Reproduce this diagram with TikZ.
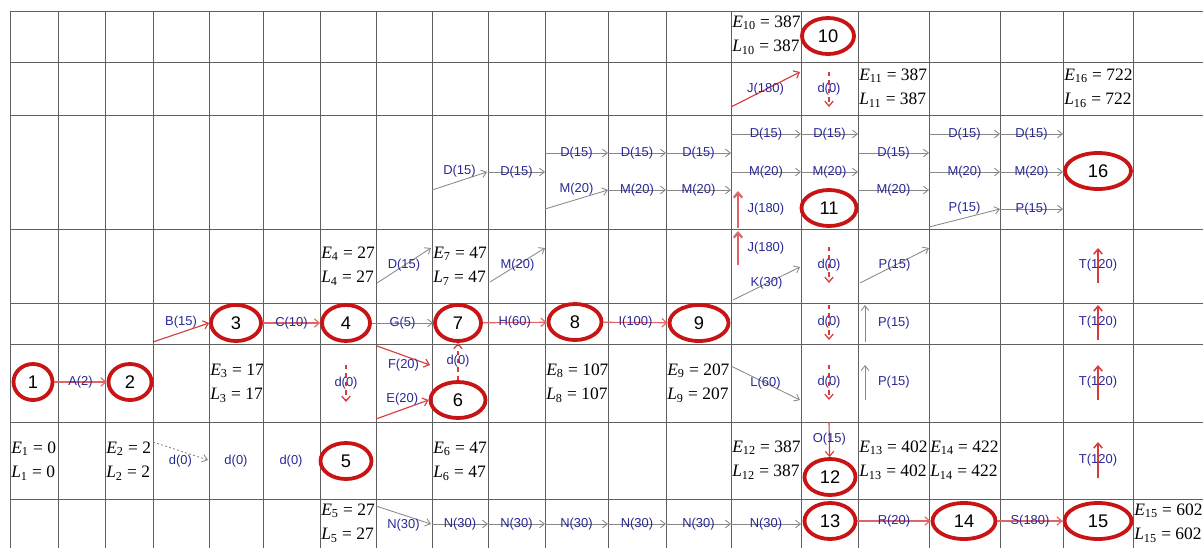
\documentclass[tikz,border=0pt]{standalone}
\usepackage{fontspec}
\setsansfont{Liberation Sans}
\newfontfamily\elfont{Liberation Serif}
\usepackage{tikz}
\usetikzlibrary{shapes.geometric, arrows.meta}

\definecolor{evred}{RGB}{200,20,20}
\definecolor{actred}{RGB}{215,60,60}
\definecolor{lightred}{RGB}{225,100,100}
\definecolor{actgray}{RGB}{135,135,135}
\definecolor{lblblue}{RGB}{40,40,150}
\definecolor{gridgray}{RGB}{95,95,95}

\begin{document}
\begin{tikzpicture}[x=0.025cm, y=-0.025cm,
    grid/.style={draw=gridgray, line width=0.7pt},
    ev/.style={ellipse, draw=evred, line width=2.7pt, minimum height=0.9cm, inner sep=0pt,
        font=\sffamily\fontsize{13}{13}\selectfont},
    lbl/.style={text=lblblue, inner sep=1pt, font=\sffamily\fontsize{9.2}{9.2}\selectfont},
    el/.style={anchor=west, align=left, inner sep=0pt, font=\elfont\fontsize{12.4}{17.5}\selectfont},
    ract/.style={draw=actred, line width=0.8pt, -{Straight Barb[length=3.5pt,width=6pt]}},
    lact/.style={ract, draw=lightred},
    tact/.style={ract, draw=lightred, line width=1.6pt},
    gact/.style={draw=actgray, line width=0.6pt, -{Straight Barb[length=3.5pt,width=5.5pt]}},
    rdum/.style={ract, line width=0.9pt, dashed},
    gdum/.style={gact, dash pattern=on 1.5pt off 1.5pt}]
    \useasboundingbox (0,0) rectangle (1203,548);

    \foreach \x in {10,58,105,153,209,263,320,376,432,488,545,608,666,731,801,858,929,1000,1063,1133}
        \draw[grid] (\x,11) -- (\x,548);
    \foreach \y in {11,62,115,229,303,344,422,499}
        \draw[grid] (10,\y) -- (1203,\y);

    \foreach \i/\x/\y/\w in {1/33/382/39, 2/130/382/43, 3/236/323/50, 4/346/323/48,
            5/346/461/51, 6/458/400/55, 7/458/323/46, 8/575/322/53, 9/699/323/59,
            10/828/36/52, 11/829/208/55, 12/830/477/51, 13/830/521/51,
            14/964/521/63, 15/1098/521/67, 16/1098/171/66}
        \node[ev, minimum width=\w*0.025cm] (n\i) at (\x,\y) {\i};

    \foreach \i/\x/\y/\v in {1/11/461/0, 2/106/461/2, 3/210/383/17, 4/321/266/27,
            5/321/523/27, 6/433/461/47, 7/433/266/47, 8/546/383/107, 9/667/383/207,
            10/732/35/387, 11/859/88/387, 12/732/460/387, 13/859/460/402,
            14/930/460/422, 15/1134/523/602, 16/1064/88/722}
        \node[el] (el\i) at (\x,\y) {\textit{E}\textsubscript{\i} = \v\\\textit{L}\textsubscript{\i} = \v};

    \draw[lact] (n1) -- node[lbl]{A(2)} (n2);
    \draw[ract] (153,342) -- node[lbl, above=1.5pt]{B(15)} (n3.west);
    \draw[lact] (n3) -- node[lbl]{C(10)} (n4);
    \draw[ract] (377,346) -- node[lbl, below=1.5pt]{F(20)} (430,365);
    \draw[ract] (376,419) -- node[lbl, above=1.5pt]{E(20)} (n6.west);
    \draw[lact] (n7) -- node[lbl]{H(60)} (n8);
    \draw[lact] (n8) -- node[lbl]{I(100)} (n9);
    \draw[ract] (731,107) -- node[lbl]{J(180)} (800,72);
    \draw[tact] (738,265) -- node[lbl, right=5pt]{J(180)} (738,231);
    \draw[tact] (738,228) -- node[lbl, right=5pt]{J(180)} (738,191);
    \draw[ract] (829,422) -- node[lbl]{O(15)} (n12);
    \draw[lact] (n13) -- node[lbl]{R(20)} (n14);
    \draw[lact] (n14) -- node[lbl]{S(180)} (n15);
    \foreach \a/\b in {283/248, 340/305, 400/365, 478/442}
        \draw[ract, line width=1.1pt] (1098,\a) -- node[lbl]{T(120)} (1098,\b);

    \draw[rdum] (346,365) -- node[lbl]{d(0)} (346,402);
    \draw[rdum] (n6) -- node[lbl]{d(0)} (n7);
    \foreach \a/\b in {72/107, 247/283, 305/340, 365/400}
        \draw[rdum] (829,\a) -- node[lbl]{d(0)} (829,\b);

    \draw[gact] (n4) -- node[lbl]{G(5)} (n7);
    \draw[gact] (377,283) -- node[lbl]{D(15)} (431,248);
    \draw[gact] (490,282) -- node[lbl]{M(20)} (545,248);
    \draw[gact] (733,300) -- node[lbl]{K(30)} (800,267);
    \draw[gact] (860,283) -- node[lbl]{P(15)} (929,248);
    \draw[gact] (731,366) -- node[lbl]{L(60)} (800,400);
    \draw[gact] (432,190) -- node[lbl, above=1.5pt]{D(15)} (487,172);
    \draw[gact] (545,209) -- node[lbl, above=1.5pt]{M(20)} (608,190);
    \draw[gact] (929,227) -- node[lbl, above=1.5pt]{P(15)} (1000,209);
    \draw[gact] (376,506) -- node[lbl, below=1.5pt]{N(30)} (431,524);
    \foreach \a/\b in {342/305, 400/365}
        \draw[gact] (865,\a) -- node[lbl, right=8pt]{P(15)} (865,\b);
    \foreach \a/\b/\y/\t in {488/545/172/{D(15)}, 545/608/153/{D(15)}, 608/666/153/{D(15)},
            666/731/153/{D(15)}, 608/666/190/{M(20)}, 666/731/190/{M(20)},
            731/801/134/{D(15)}, 801/858/134/{D(15)}, 929/1000/134/{D(15)}, 1000/1063/134/{D(15)},
            731/801/172/{M(20)}, 801/858/172/{M(20)}, 929/1000/172/{M(20)}, 1000/1063/172/{M(20)},
            858/929/153/{D(15)}, 858/929/190/{M(20)}, 1000/1063/209/{P(15)},
            432/488/524/{N(30)}, 488/545/524/{N(30)}, 545/608/524/{N(30)}, 608/666/524/{N(30)},
            666/731/524/{N(30)}, 731/801/524/{N(30)}}
        \draw[gact] (\a,\y) -- node[lbl]{\t} (\b,\y);

    \draw[gdum] (153,442) -- node[lbl, below=1.5pt]{d(0)} (208,460);
    \node[lbl] (d4) at (236,461) {d(0)};
    \node[lbl] (d5) at (291,461) {d(0)};
\end{tikzpicture}
\end{document}
